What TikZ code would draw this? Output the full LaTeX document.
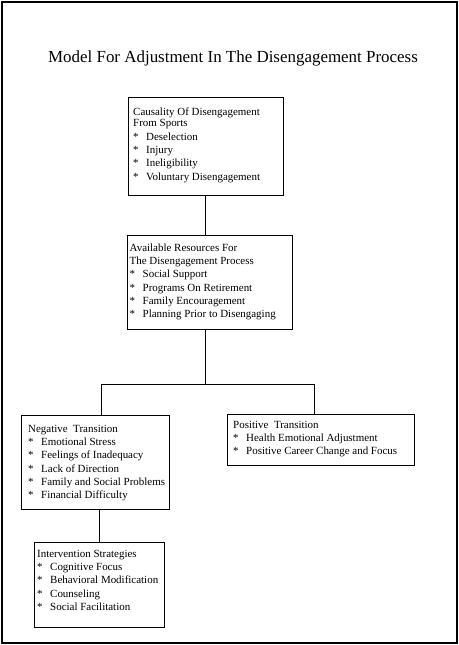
\documentclass[tikz,border=0pt]{standalone}
\usepackage{fontspec}
\setmainfont{Liberation Serif}
\tikzset{
  box/.style={draw, line width=0.9bp, inner sep=0pt},
  txt/.style={anchor=base west, inner sep=0pt, font=\fontsize{11}{13.4}\selectfont},
  link/.style={line width=0.9bp},
}
\newcommand{\itm}{\makebox[13bp][l]{*}}
\renewcommand{\arraystretch}{1}
\begin{document}
\begin{tikzpicture}[x=1bp,y=-1bp]
\useasboundingbox (0,0) rectangle (459,645);
\node[draw, line width=1.2bp, minimum width=455bp, minimum height=641bp, inner sep=0pt] (frame) at (229.5,322.5) {};
\node[anchor=base, inner sep=0pt, font=\fontsize{17}{20}\selectfont] (title) at (233,63) {Model For Adjustment In The Disengagement Process};
% boxes
\node[box, minimum width=155bp, minimum height=98bp] (c) at (205.5,146) {};
\node[box, minimum width=165bp, minimum height=94bp] (r) at (209.5,282) {};
\node[box, minimum width=148bp, minimum height=94bp] (n) at (95,462) {};
\node[box, minimum width=187bp, minimum height=51bp] (p) at (320.5,439.5) {};
\node[box, minimum width=130bp, minimum height=85bp] (i) at (99,584.5) {};
% texts
\node[txt] (ct) at (133,116) {\begin{tabular}[t]{@{}l@{}}Causality Of Disengagement\\[-2.4bp] From Sports\\ \itm Deselection\\ \itm Injury\\ \itm Ineligibility\\ \itm Voluntary Disengagement\end{tabular}};
\node[txt] (rt) at (129.5,251) {\begin{tabular}[t]{@{}l@{}}Available Resources For\\ The Disengagement Process\\ \itm Social Support\\ \itm Programs On Retirement\\ \itm Family Encouragement\\ \itm Planning Prior to Disengaging\end{tabular}};
\node[txt] (nt) at (28,432) {\begin{tabular}[t]{@{}l@{}}Negative\ \ Transition\\ \itm Emotional Stress\\ \itm Feelings of Inadequacy\\ \itm Lack of Direction\\ \itm Family and Social Problems\\ \itm Financial Difficulty\end{tabular}};
\node[txt] (pt) at (233,428) {\begin{tabular}[t]{@{}l@{}}Positive\ \ Transition\\ \itm Health Emotional Adjustment\\ \itm Positive Career Change and Focus\end{tabular}};
\node[txt] (it) at (37,557) {\begin{tabular}[t]{@{}l@{}}Intervention Strategies\\ \itm Cognitive Focus\\ \itm Behavioral Modification\\ \itm Counseling\\ \itm Social Facilitation\end{tabular}};
% connectors
\coordinate (j) at (205,384);
\coordinate (jl) at (101,384);
\coordinate (jr) at (314,384);
\draw[link] (c.south) -- (c.south |- r.north);
\draw[link] (j |- r.south) -- (j);
\draw[link] (jl |- n.north) -- (jl) -- (jr) -- (jr |- p.north);
\draw[link] (n.south -| i.north) -- (i.north);
\end{tikzpicture}
\end{document}
